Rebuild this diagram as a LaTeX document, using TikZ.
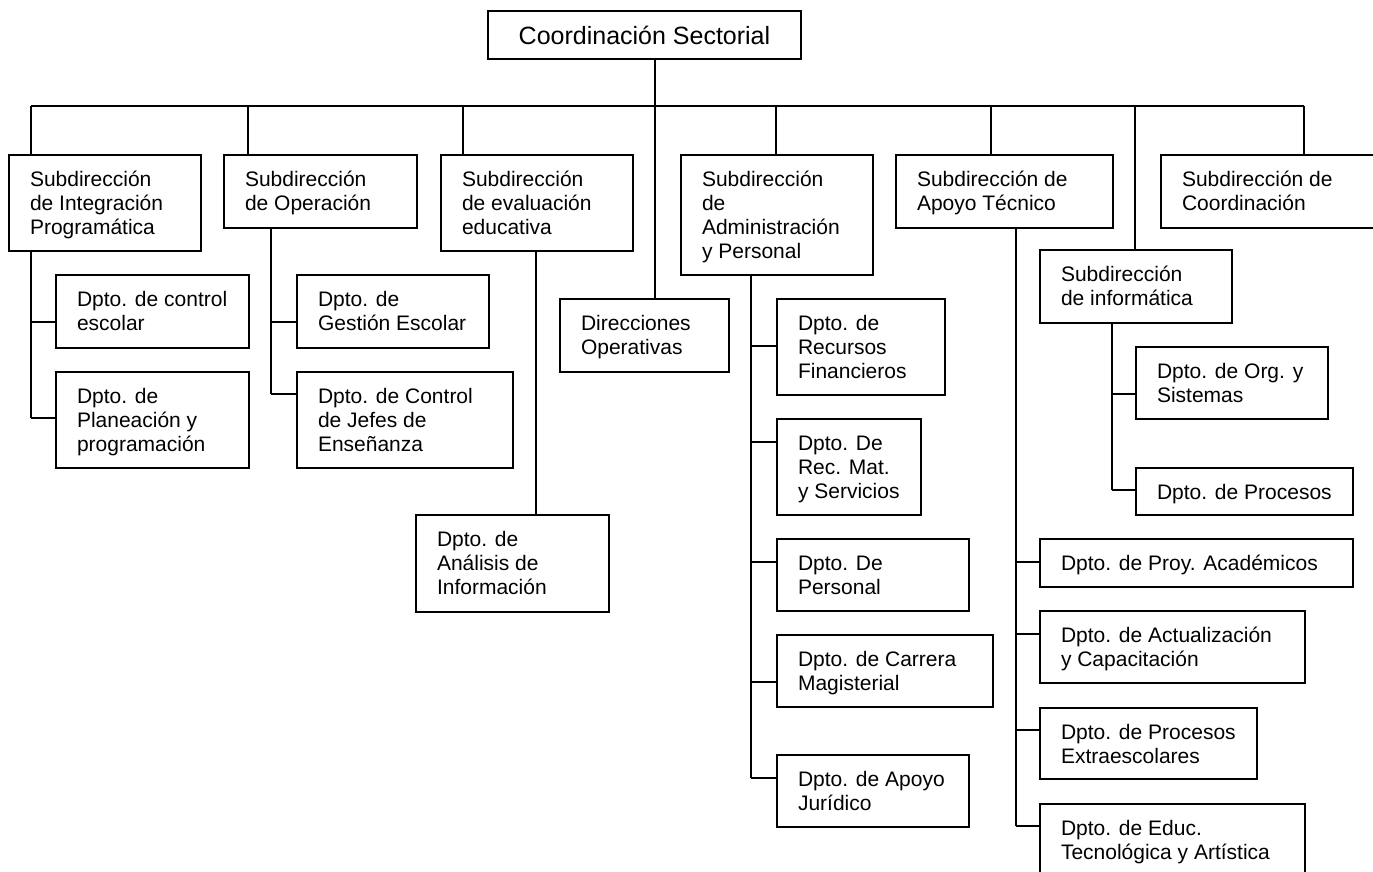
\documentclass[tikz,border=0pt]{standalone}
\usepackage{fontspec}
\setmainfont{Liberation Sans}
\usepackage{tikz}
\usetikzlibrary{calc,positioning}
\tikzstyle{caja}=[draw, line width=2pt, inner sep=0pt, anchor=north west,
font=\fontsize{21}{24}\selectfont]
\tikzstyle{cajatop}=[caja, font=\fontsize{25}{30}\selectfont, text centered]
\tikzstyle{linea}=[line width=2pt]
% text of a box: width, height, lines
\newcommand{\txt}[3]{\parbox[t][#2pt][t]{#1pt}{\raggedright\leftskip=21pt\rule{0pt}{31pt}#3}}

\begin{document}
\begin{tikzpicture}[x=1pt,y=-1pt]
		\useasboundingbox (0,0) rectangle (1373,871);
		\clip (0,0) rectangle (1373,871);

		% top
		\node[cajatop, minimum width=313pt, minimum height=48pt] (CS) at (487,10) {Coordinación Sectorial};

		% subdirecciones
		\node[caja] (S1) at (8,154) {\txt{192}{96}{Subdirección\\de Integración\\Programática}};
		\node[caja] (S2) at (223,154) {\txt{193}{73}{Subdirección\\de Operación}};
		\node[caja] (S3) at (440,154) {\txt{192}{96}{Subdirección\\de evaluación\\educativa}};
		\node[caja] (S4) at (680,154) {\txt{192}{120}{Subdirección\\de\\Administración\\y Personal}};
		\node[caja] (S5) at (895,154) {\txt{217}{73}{Subdirección de\\Apoyo Técnico}};
		\node[caja] (S6) at (1160,154) {\txt{240}{73}{Subdirección de\\Coordinación}};
		\node[caja] (S7) at (1039,249) {\txt{192}{73}{Subdirección\\de informática}};
		\node[caja] (DO) at (559,298) {\txt{169}{73}{Direcciones\\Operativas}};

		% departamentos
		\node[caja] (D11) at (55,274) {\txt{193}{73}{Dpto. de control\\escolar}};
		\node[caja] (D12) at (55,371) {\txt{193}{96}{Dpto. de\\Planeación y\\programación}};
		\node[caja] (D21) at (296,274) {\txt{192}{73}{Dpto. de\\Gestión Escolar}};
		\node[caja] (D22) at (296,371) {\txt{216}{96}{Dpto. de Control\\de Jefes de\\Enseñanza}};
		\node[caja] (D31) at (415,514) {\txt{193}{97}{Dpto. de\\Análisis de\\Información}};
		\node[caja] (D41) at (776,298) {\txt{168}{96}{Dpto. de\\Recursos\\Financieros}};
		\node[caja] (D42) at (776,418) {\txt{144}{96}{Dpto. De\\Rec. Mat.\\y Servicios}};
		\node[caja] (D43) at (776,538) {\txt{192}{72}{Dpto. De\\Personal}};
		\node[caja] (D44) at (776,634) {\txt{216}{72}{Dpto. de Carrera\\Magisterial}};
		\node[caja] (D45) at (776,754) {\txt{192}{72}{Dpto. de Apoyo\\Jurídico}};
		\node[caja] (D51) at (1039,538) {\txt{313}{48}{Dpto. de Proy. Académicos}};
		\node[caja] (D52) at (1039,610) {\txt{265}{72}{Dpto. de Actualización\\y Capacitación}};
		\node[caja] (D53) at (1039,707) {\txt{217}{71}{Dpto. de Procesos\\Extraescolares}};
		\node[caja] (D54) at (1039,803) {\txt{265}{80}{Dpto. de Educ.\\Tecnológica y Artística}};
		\node[caja] (D71) at (1135,346) {\txt{192}{72}{Dpto. de Org. y\\Sistemas}};
		\node[caja] (D72) at (1135,467) {\txt{217}{47}{Dpto. de Procesos}};

		% bus
		\coordinate (busL) at (31,106);
		\coordinate (busR) at (1304,106);
		\draw[linea] (busL) -- (busR);
		\draw[linea] (CS.south -| 655,0) -- (DO.north -| 655,0);
		\foreach \n/\x in {S1/31, S2/248, S3/463, S4/776, S5/991, S6/1304, S7/1135}
			\draw[linea] (busL -| \x,0) -- (\n.north -| \x,0);

		% ramas
		\draw[linea] (S1.south -| 31,0) -- (31,418);
		\foreach \n/\y in {D11/322, D12/418}
			\draw[linea] (31,\y) -- (\n.west |- 0,\y);

		\draw[linea] (S2.south -| 271,0) -- (271,394);
		\foreach \n/\y in {D21/322, D22/394}
			\draw[linea] (271,\y) -- (\n.west |- 0,\y);

		\draw[linea] (S3.south -| 536,0) -- (D31.north -| 536,0);

		\draw[linea] (S4.south -| 751,0) -- (751,778);
		\foreach \n/\y in {D41/346, D42/442, D43/562, D44/682, D45/778}
			\draw[linea] (751,\y) -- (\n.west |- 0,\y);

		\draw[linea] (S5.south -| 1016,0) -- (1016,826);
		\foreach \n/\y in {D51/562, D52/634, D53/730, D54/826}
			\draw[linea] (1016,\y) -- (\n.west |- 0,\y);

		\draw[linea] (S7.south -| 1112,0) -- (1112,490);
		\foreach \n/\y in {D71/394, D72/490}
			\draw[linea] (1112,\y) -- (\n.west |- 0,\y);
	\end{tikzpicture}
\end{document}
